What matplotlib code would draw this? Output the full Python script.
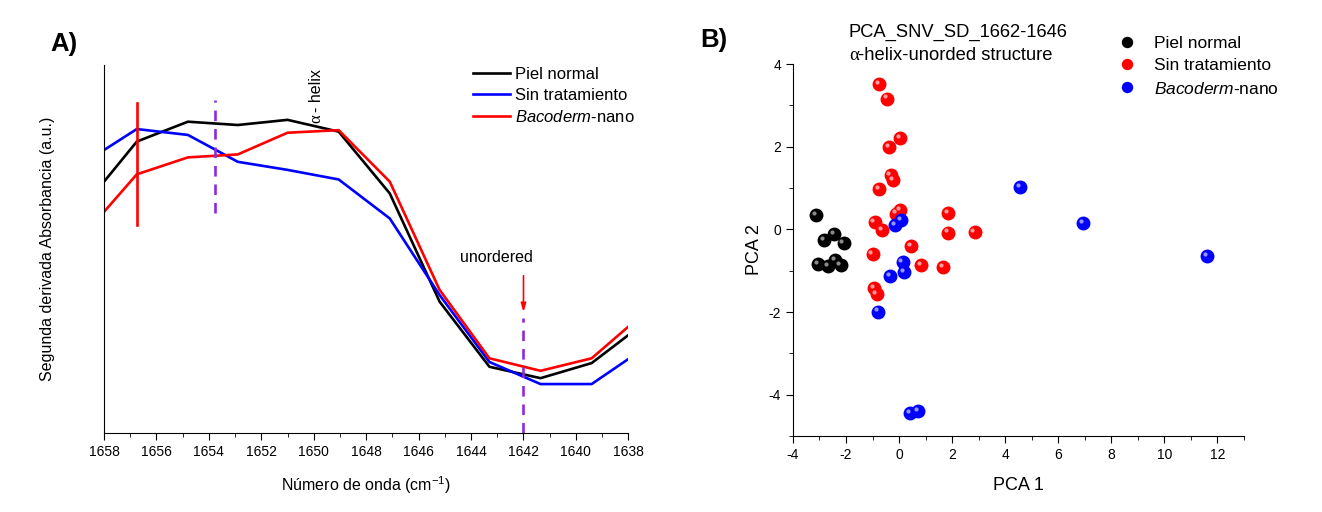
import matplotlib
matplotlib.use("Agg")
import matplotlib.pyplot as plt
import matplotlib.transforms as mtransforms
import numpy as np

plt.rcParams['font.family'] = ['Liberation Sans', 'DejaVu Sans']
plt.rcParams['mathtext.fontset'] = 'custom'
plt.rcParams['mathtext.rm'] = 'Liberation Sans'
plt.rcParams['mathtext.it'] = 'Liberation Sans:italic'
plt.rcParams['mathtext.bf'] = 'Liberation Sans:bold'
plt.rcParams['axes.unicode_minus'] = False

# ---- panel A: second derivative spectra ----
wavenumber = [1658, 1656.75, 1654.8, 1652.9, 1651.0, 1649.05, 1647.1, 1645.2, 1643.3, 1641.35, 1639.4, 1638]
piel_normal = [0.683, 0.792, 0.846, 0.837, 0.851, 0.819, 0.651, 0.357, 0.180, 0.149, 0.190, 0.266]
sin_trat = [0.769, 0.826, 0.810, 0.737, 0.715, 0.689, 0.583, 0.375, 0.193, 0.133, 0.133, 0.201]
bacoderm = [0.601, 0.703, 0.749, 0.757, 0.816, 0.823, 0.683, 0.389, 0.203, 0.169, 0.203, 0.289]

# ---- panel B: PCA scores ----
pn_x = [-3.12, -2.83, -2.46, -2.09, -3.06, -2.68, -2.40, -2.20]
pn_y = [0.35, -0.26, -0.12, -0.34, -0.85, -0.89, -0.75, -0.86]
st_x = [-0.75, -0.45, 0.05, -0.38, -0.32, -0.23, -0.75, 0.03, -0.12, -0.92,
        -0.64, 1.84, 1.84, 2.85, 0.44, -1.00, 0.83, 1.66, -0.95, -0.85]
st_y = [3.52, 3.16, 2.21, 1.99, 1.31, 1.19, 0.98, 0.47, 0.38, 0.17,
        -0.02, 0.39, -0.08, -0.06, -0.40, -0.60, -0.87, -0.91, -1.43, -1.57]
bn_x = [-0.16, 0.09, 0.13, 0.18, -0.33, -0.79, 0.42, 0.72, 4.55, 6.94, 11.60]
bn_y = [0.10, 0.23, -0.80, -1.03, -1.13, -1.99, -4.44, -4.40, 1.02, 0.16, -0.65]

purple = "#8A2BE2"
W, H = 1322, 512

def fx(px):
    return px / W

def fy(py):
    return 1 - py / H

fig = plt.figure(figsize=(13.22, 5.12), dpi=100)
ax1 = fig.add_axes([0.0787, 0.1543, 0.3966, 0.7187])
ax2 = fig.add_axes([0.5998, 0.1484, 0.3412, 0.7266])

# panel A
ax1.plot(wavenumber, piel_normal, color="black", lw=1.9, label="Piel normal")
ax1.plot(wavenumber, sin_trat, color="#0000FF", lw=1.9, label="Sin tratamiento")
ax1.plot(wavenumber, bacoderm, color="#FF0000", lw=1.9, label="$Bacoderm$-nano")
ax1.plot([1656.75, 1656.75], [0.565, 0.897], color="#FF0000", lw=1.9)
ax1.plot([1653.75, 1653.75], [0.598, 0.905], color=purple, lw=1.9, ls=(0, (4, 3)))
ax1.plot([1642, 1642], [0.0, 0.3125], color=purple, lw=1.9, ls=(0, (4, 3)))
ax1.annotate("", xy=(1642, 0.321), xytext=(1642, 0.435),
             arrowprops=dict(arrowstyle="-|>,head_width=0.15,head_length=0.5", color="#FF0000", lw=1.2))
ax1.text(1643.05, 0.478, "unordered", ha="center", va="center", fontsize=11.5)
ax1.text(1649.9, 0.853, "α", ha="center", va="center", rotation=90, fontsize=12,
         family="Liberation Serif")
ax1.text(1649.9, 0.872, "- helix", ha="center", va="bottom", rotation=90, fontsize=11.5)

ax1.set_xlim(1658, 1638)
ax1.set_ylim(0, 1)
ax1.set_xticks(np.arange(1658, 1637, -2))
ax1.set_xticks(np.arange(1657, 1638, -2), minor=True)
ax1.set_yticks([])
ax1.spines['top'].set_visible(False)
ax1.spines['right'].set_visible(False)
ax1.tick_params(axis='x', direction='out', length=5, labelsize=10)
ax1.tick_params(axis='x', which='minor', length=3)
ax1.set_xlabel("Número de onda (cm$^{-1}$)", fontsize=11.5, labelpad=11)
ax1.set_ylabel("Segunda derivada Absorbancia (a.u.)", fontsize=11.5, labelpad=35)
ax1.legend(loc="upper left", bbox_to_anchor=(fx(473), fy(67)), bbox_transform=fig.transFigure,
           frameon=False, fontsize=12, handlelength=2.2, handletextpad=0.3,
           labelspacing=0.36, borderpad=0, borderaxespad=0)

# panel B: spheres with a small highlight
hl = mtransforms.ScaledTranslation(-1.6 / 72, 1.6 / 72, fig.dpi_scale_trans)
groups = [(pn_x, pn_y, "black", "#9a9a9a", "Piel normal"),
          (st_x, st_y, "#FF0000", "#ffb0b0", "Sin tratamiento"),
          (bn_x, bn_y, "#0000FF", "#a8a8ff", "$Bacoderm$-nano")]
for gx, gy, c, light, lab in groups:
    ax2.plot(gx, gy, "o", ms=9, color=c, mec=c, label=lab)
    ax2.plot(gx, gy, "o", ms=3, color=light, mec="none", alpha=0.9,
             transform=ax2.transData + hl)

ax2.set_xlim(-4, 13)
ax2.set_ylim(-5, 4)
ax2.set_xticks(np.arange(-4, 13, 2))
ax2.set_xticks(np.arange(-3, 14, 2), minor=True)
ax2.set_yticks([-4, -2, 0, 2, 4])
ax2.set_yticks(np.arange(-5, 4, 2), minor=True)
ax2.spines['top'].set_visible(False)
ax2.spines['right'].set_visible(False)
ax2.tick_params(direction='out', length=5, labelsize=10)
ax2.tick_params(which='minor', length=3)
ax2.set_xlabel("PCA 1", fontsize=13, labelpad=11)
ax2.set_ylabel("PCA 2", fontsize=13)
ax2.legend(loc="upper left", bbox_to_anchor=(fx(1118), fy(36)), bbox_transform=fig.transFigure,
           frameon=False, fontsize=12.5, handlelength=1.0, handletextpad=1.1,
           labelspacing=0.41, borderpad=0, borderaxespad=0, markerscale=0.8)

fig.text(fx(849), fy(32), "PCA_SNV_SD_1662-1646", fontsize=13.2, va="center")
fig.text(fx(849), fy(55), "α", fontsize=13.5, va="center", family="Liberation Serif")
fig.text(fx(858), fy(55), "-helix-unorded structure", fontsize=13.2, va="center")
fig.text(fx(64), fy(44), "A)", fontsize=18.5, fontweight="bold", va="center", ha="center")
fig.text(fx(714), fy(40), "B)", fontsize=18.5, fontweight="bold", va="center", ha="center")

fig.savefig("out.png", dpi=100)
